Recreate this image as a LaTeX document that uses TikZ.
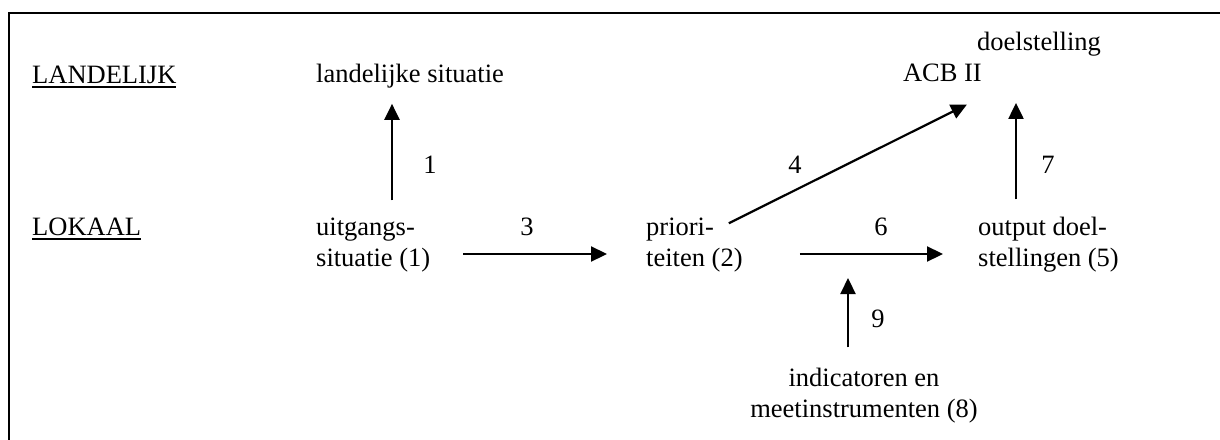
\documentclass[tikz,border=0pt]{standalone}
\usepackage{fontspec}
\setmainfont{Liberation Serif}
\usetikzlibrary{arrows.meta,calc}
% underline drawn as a 2pt rule a little below the baseline
\newcommand\ulbar[1]{\setbox0\hbox{#1}\leavevmode\rlap{\vrule height -3pt depth 5pt width \wd0}\box0}
\begin{document}
\begin{tikzpicture}[x=1pt,y=-1pt,
  txt/.style={inner sep=0pt, anchor=base west, align=left,
              font=\fontsize{26.5}{31}\selectfont},
  num/.style={inner sep=0pt, anchor=base, font=\fontsize{26.5}{31}\selectfont},
  flow/.style={line width=2.2pt, -{Triangle[length=16pt,width=15pt]}},
  frame/.style={line width=2pt}]
\useasboundingbox (0,0) rectangle (1220,439);
% open frame: top and left edges
\draw[frame] (1221,13) -- (9,13) -- (9,440);

% level headings
\node[txt] (landelijk) at (32,83) {\ulbar{LANDELIJK}};
\node[txt] (lokaal) at (32,235) {\ulbar{LOKAAL}};

% national level
\node[txt] (landsit) at (316,82) {landelijke situatie};
\node[txt] (goal) at (977,50) {doelstelling};
\node[txt, anchor=base east] (acb) at (982,81) {ACB II};

% local level (two-line nodes are placed by the baseline of their last line)
\node[txt] (uitg) at (316,266) {uitgangs-\\situatie (1)};
\node[txt] (prio) at (646,266) {priori-\\teiten (2)};
\node[txt] (out) at (978,266) {output doel-\\stellingen (5)};
\node[txt, anchor=base, align=center] (ind) at (864,417) {indicatoren en\\meetinstrumenten (8)};

% guide coordinates for the connectors
\coordinate (row) at (0,254);
\coordinate (c1) at (392,0);
\coordinate (c7) at (1016,0);
\coordinate (c9) at (848,0);
\coordinate (meet) at (848,278);

% connectors
\draw[flow, shorten <=17pt, shorten >=16pt] (uitg.north -| c1) -- (landsit.south -| c1);
\draw[flow, shorten <=33pt, shorten >=39pt] (uitg.east |- row) -- (prio.west |- row);
\draw[flow] ($(prio.north east)+(-14,6)$) -- ($(acb.south east)+(-15,23)$);
\draw[flow, shorten <=57pt, shorten >=35pt] (prio.east |- row) -- (out.west |- row);
\draw[flow, shorten <=17pt, shorten >=47pt] (out.north -| c7) -- (goal.south -| c7);
\draw[flow, shorten <=20pt] (ind.north -| c9) -- (meet);

% connector numbers
\node[num] (n1) at (430,173) {1};
\node[num] (n3) at (527,235) {3};
\node[num] (n4) at (795,173) {4};
\node[num] (n6) at (881,235) {6};
\node[num] (n7) at (1048,173) {7};
\node[num] (n9) at (878,327) {9};
\end{tikzpicture}
\end{document}
